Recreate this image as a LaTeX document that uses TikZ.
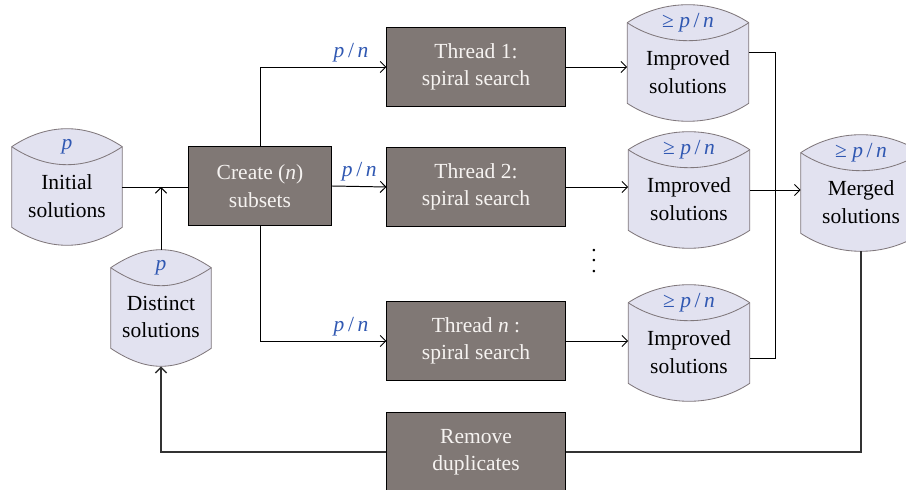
\documentclass[tikz,border=0pt]{standalone}
\usepackage{fontspec}
\setmainfont{Liberation Serif}
\usetikzlibrary{arrows.meta,calc}
\definecolor{boxgray}{RGB}{128,120,117}
\definecolor{boxtext}{RGB}{246,243,241}
\definecolor{dbfill}{RGB}{226,226,240}
\definecolor{dbedge}{RGB}{128,120,124}
\definecolor{qtyblue}{RGB}{48,88,178}

\begin{document}
\begin{tikzpicture}[x=0.025cm,y=-0.025cm,
  every node/.style={font=\fontsize{15.3}{19.5}\selectfont},
  box/.style={draw=black,line width=0.7pt,fill=boxgray,text=boxtext,align=center,
    minimum width=4.45cm,minimum height=1.95cm,inner sep=0pt},
  dbbody/.style={minimum height=2.9cm,inner sep=0pt},
  db/.style={draw=dbedge,fill=dbfill,line width=0.6pt},
  txt/.style={align=center,text=black},
  qty/.style={text=qtyblue},
  line/.style={draw=black,line width=0.7pt},
  arrow/.style={line,-{Straight Barb[length=4pt,width=8pt]}},
  back/.style={draw=black!80,line width=1pt},
]
\useasboundingbox (0,0) rectangle (906,490);
% solution pools
\node[dbbody,minimum width=2.75cm] (init) at (67,187) {};
\node[dbbody,minimum width=2.5cm] (dist) at (161,308) {};
\node[dbbody,minimum width=3.025cm] (imp1) at (688,63) {};
\node[dbbody,minimum width=3.025cm] (imp2) at (689,190) {};
\node[dbbody,minimum width=3.025cm] (impn) at (689,343) {};
\node[dbbody,minimum width=3cm] (merged) at (861,193) {};
\foreach \n in {init,dist,imp1,imp2,impn,merged}{
  \draw[db] ($(\n.north west)+(0,18)$) .. controls +(36,-24) and +(-36,-24) .. ($(\n.north east)+(0,18)$)
    -- ($(\n.south east)+(0,-18)$) .. controls +(-36,24) and +(36,24) .. ($(\n.south west)+(0,-18)$) -- cycle;
  \draw[db,fill=none] ($(\n.north west)+(0,18)$) .. controls +(36,24) and +(-36,24) .. ($(\n.north east)+(0,18)$);
}
\node[qty] (init-q) at (67,147) {\textit{p}};
\node[txt] (init-t) at (67,196) {Initial\\solutions};
\node[qty] (dist-q) at (161,268) {\textit{p}};
\node[txt] (dist-t) at (161,317) {Distinct\\solutions};
\node[qty] (imp1-q) at (688,23) {≥ \textit{p}\,/\,\textit{n}};
\node[txt] (imp1-t) at (688,72) {Improved\\solutions};
\node[qty] (imp2-q) at (689,150) {≥ \textit{p}\,/\,\textit{n}};
\node[txt] (imp2-t) at (689,199) {Improved\\solutions};
\node[qty] (impn-q) at (689,303) {≥ \textit{p}\,/\,\textit{n}};
\node[txt] (impn-t) at (689,352) {Improved\\solutions};
\node[qty] (merged-q) at (861,153) {≥ \textit{p}\,/\,\textit{n}};
\node[txt] (merged-t) at (861,202) {Merged\\solutions};
% processing steps
\node[box,minimum width=3.575cm] (create) at (260,186) {Create (\textit{n})\\subsets};
\node[box] (t1) at (476,67) {Thread 1:\\spiral search};
\node[box] (t2) at (476,187) {Thread 2:\\spiral search};
\node[box] (tn) at (476,341) {Thread \textit{n} :\\spiral search};
\node[box] (rmdup) at (476,452) {Remove\\duplicates};
\node[align=center,font=\fontsize{15}{7.6}\selectfont] (dots) at (594,261) {.\\.\\.};
% connections
\draw[line] (init.east) -- (init.east -| create.west);
\draw[arrow] (dist.north) -- (dist.north |- init.east);
\draw[arrow] (create.north) |- (t1.west) node[qty,pos=0.86,above] {\textit{p}\,/\,\textit{n}};
\draw[arrow] (create.east) -- (t2.west) node[qty,midway,above] {\textit{p}\,/\,\textit{n}};
\draw[arrow] (create.south) |- (tn.west) node[qty,pos=0.86,above] {\textit{p}\,/\,\textit{n}};
\draw[arrow] (t1.east) -- (t1.east -| imp1.west);
\draw[arrow] (t2.east) -- (t2.east -| imp2.west);
\draw[arrow] (tn.east) -- (tn.east -| impn.west);
\draw[line] ($(imp1.east)+(0,-11)$) -- ++(27,0) |- ($(impn.east)+(0,15)$);
\draw[arrow] (imp2.east) -- (imp2.east -| merged.west);
\draw[back] (merged.south) |- (rmdup.east);
\draw[back,-{Straight Barb[length=4pt,width=8pt]}] (rmdup.west) -| (dist.south);
\end{tikzpicture}
\end{document}
